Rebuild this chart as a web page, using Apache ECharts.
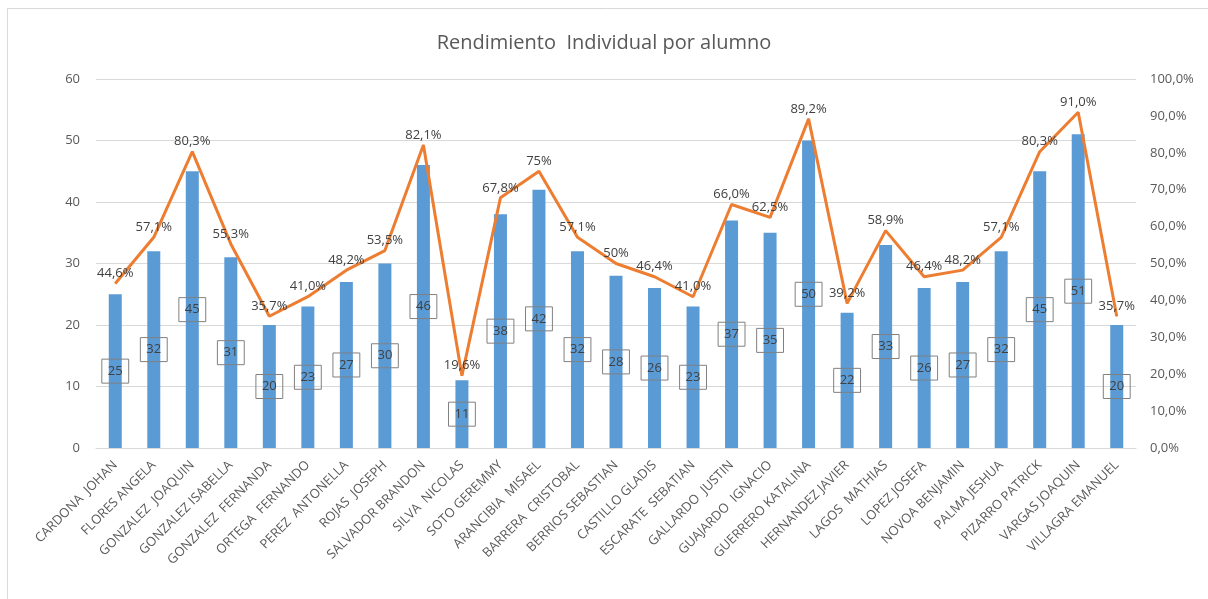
<!DOCTYPE html>
<html>
<head>
<meta charset="utf-8">
<script src="https://cdn.jsdelivr.net/npm/echarts@6/dist/echarts.min.js"></script>
<style>
  html, body { margin: 0; padding: 0; background: #fff; }
  #chart { width: 1208px; height: 599px; }
</style>
</head>
<body>
<div id="chart"></div>
<script>
// alumnos
var alumnos = [
  "CARDONA  JOHAN", "FLORES ANGELA", "GONZALEZ  JOAQUIN", "GONZALEZ ISABELLA",
  "GONZALEZ  FERNANDA", "ORTEGA  FERNANDO", "PEREZ  ANTONELLA", "ROJAS  JOSEPH",
  "SALVADOR BRANDON", "SILVA  NICOLAS", "SOTO GEREMMY", "ARANCIBIA  MISAEL",
  "BARRERA  CRISTOBAL", "BERRIOS SEBASTIAN", "CASTILLO GLADIS", "ESCARATE  SEBATIAN",
  "GALLARDO  JUSTIN", "GUAJARDO  IGNACIO", "GUERRERO KATALINA", "HERNANDEZ JAVIER",
  "LAGOS  MATHIAS", "LOPEZ JOSEFA", "NOVOA BENJAMIN", "PALMA JESHUA",
  "PIZARRO PATRICK", "VARGAS JOAQUIN", "VILLAGRA EMANUEL"
];
// puntaje
var puntajes = [25, 32, 45, 31, 20, 23, 27, 30, 46, 11, 38, 42, 32, 28, 26, 23, 37, 35, 50, 22, 33, 26, 27, 32, 45, 51, 20];
// porcentaje de logro
var porcentajes = [44.6, 57.1, 80.3, 55.3, 35.7, 41.0, 48.2, 53.5, 82.1, 19.6, 67.8, 75, 57.1, 50, 46.4, 41.0, 66.0, 62.5, 89.2, 39.2, 58.9, 46.4, 48.2, 57.1, 80.3, 91.0, 35.7];
var etiquetasPct = ["44,6%", "57,1%", "80,3%", "55,3%", "35,7%", "41,0%", "48,2%", "53,5%", "82,1%", "19,6%", "67,8%", "75%", "57,1%", "50%", "46,4%", "41,0%", "66,0%", "62,5%", "89,2%", "39,2%", "58,9%", "46,4%", "48,2%", "57,1%", "80,3%", "91,0%", "35,7%"];
var ticksIzq = [0, 10, 20, 30, 40, 50, 60];

var chart = echarts.init(document.getElementById("chart"));
var fuente = "'Open Sans', 'DejaVu Sans', sans-serif";

chart.setOption({
  animation: false,
  textStyle: { fontFamily: fuente },
  title: {
    text: "Rendimiento  Individual por alumno",
    left: "center",
    top: 28,
    textStyle: { fontSize: 20, fontWeight: "normal", color: "#595959", fontFamily: fuente }
  },
  graphic: [
    { type: "line", shape: { x1: 7, y1: 8.5, x2: 1208, y2: 8.5 }, style: { stroke: "#d9d9d9", lineWidth: 1 } },
    { type: "line", shape: { x1: 7.5, y1: 8, x2: 7.5, y2: 599 }, style: { stroke: "#d9d9d9", lineWidth: 1 } }
  ],
  grid: { left: 96, right: 72, top: 79, bottom: 151 },
  xAxis: {
    type: "category",
    data: alumnos,
    axisTick: { show: false },
    axisLine: { lineStyle: { color: "#d9d9d9" } },
    axisLabel: { rotate: 45, interval: 0, fontSize: 13, color: "#595959", margin: 15 }
  },
  yAxis: [
    {
      type: "value",
      min: ticksIzq[0],
      max: ticksIzq[ticksIzq.length - 1],
      interval: 10,
      axisLine: { show: false },
      axisTick: { show: false },
      axisLabel: { fontSize: 13, color: "#595959", margin: 16 },
      splitLine: { lineStyle: { color: "#d9d9d9" } }
    },
    {
      type: "value",
      min: 0,
      max: 100,
      interval: 10,
      axisLine: { show: false },
      axisTick: { show: false },
      splitLine: { show: false },
      axisLabel: {
        fontSize: 13, color: "#595959", margin: 14,
        formatter: function (v) { return v.toFixed(1).replace(".", ",") + "%"; }
      }
    }
  ],
  series: [
    {
      name: "Puntaje",
      type: "bar",
      data: puntajes,
      barWidth: 13,
      itemStyle: { color: "#5b9bd5" },
      label: {
        show: true,
        position: "inside",
        color: "#404040",
        fontSize: 13,
        borderColor: "#808080",
        borderWidth: 1,
        padding: [6, 6, 5, 6]
      }
    },
    {
      name: "Porcentaje",
      type: "line",
      yAxisIndex: 1,
      data: porcentajes,
      symbol: "circle",
      symbolSize: 1,
      lineStyle: { color: "#ed7d31", width: 3 },
      itemStyle: { color: "#ed7d31" },
      label: {
        show: true,
        position: "top",
        distance: 3,
        color: "#404040",
        fontSize: 13,
        formatter: function (p) { return etiquetasPct[p.dataIndex]; }
      },
      z: 3
    }
  ]
});
</script>
</body>
</html>
